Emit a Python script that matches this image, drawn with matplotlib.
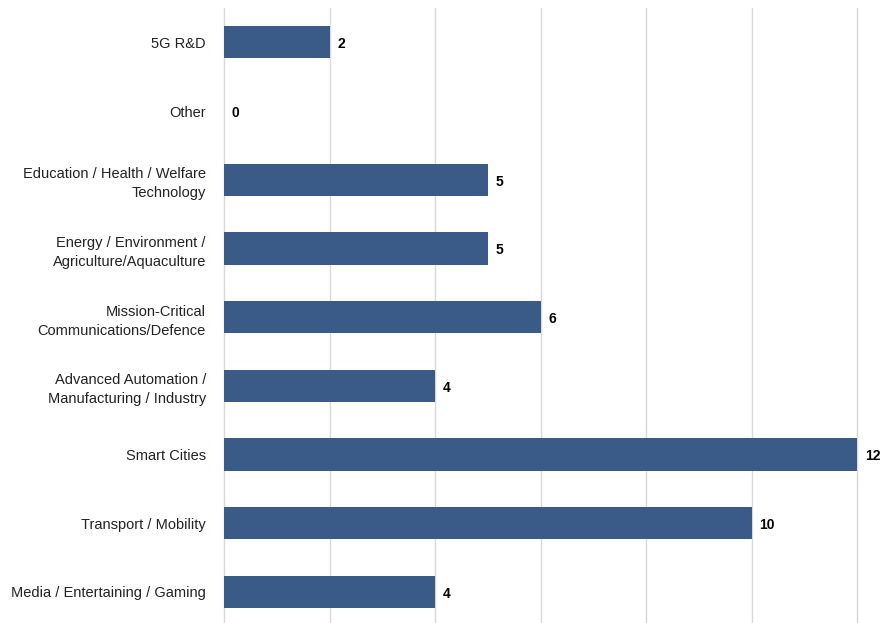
import matplotlib
matplotlib.use("Agg")
import matplotlib.pyplot as plt

# categories listed bottom to top
categories = [
    "Media / Entertaining / Gaming",
    "Transport / Mobility",
    "Smart Cities",
    "Advanced Automation /\nManufacturing / Industry",
    "Mission-Critical\nCommunications/Defence",
    "Energy / Environment /\nAgriculture/Aquaculture",
    "Education / Health / Welfare\nTechnology",
    "Other",
    "5G R&D",
]
counts = [4, 10, 12, 4, 6, 5, 5, 0, 2]

plt.rcParams['font.family'] = ['Liberation Sans', 'DejaVu Sans']

fig = plt.figure(figsize=(8.83, 6.23), dpi=100)
ax = fig.add_axes([224 / 883, -0.005, (857 - 224) / 883, 1 - 8 / 623 + 0.005])

ypos = range(len(categories))
ax.barh(ypos, counts, height=0.47, color="#3a5a88", zorder=3)

for y, v in zip(ypos, counts):
    ax.text(v + 0.15, y - 0.03, str(v), va="center", ha="left",
            fontsize=10, fontweight="bold", color="black")

ax.set_xlim(0, 12)
ax.set_ylim(-0.5, 8.5)
ax.set_xticks(range(0, 13, 2))
ax.set_xticklabels([])
ax.tick_params(axis="x", length=0)
ax.set_yticks(list(ypos))
ax.set_yticklabels(categories, fontsize=10.5, color="#222222", linespacing=1.45)
ax.tick_params(axis="y", length=0, pad=13)
ax.grid(axis="x", color="#d9d9d9", linewidth=1, zorder=0)
for gl in ax.get_xgridlines():
    gl.set_clip_on(False)
for s in ax.spines.values():
    s.set_visible(False)

fig.savefig("out.png", dpi=100)
